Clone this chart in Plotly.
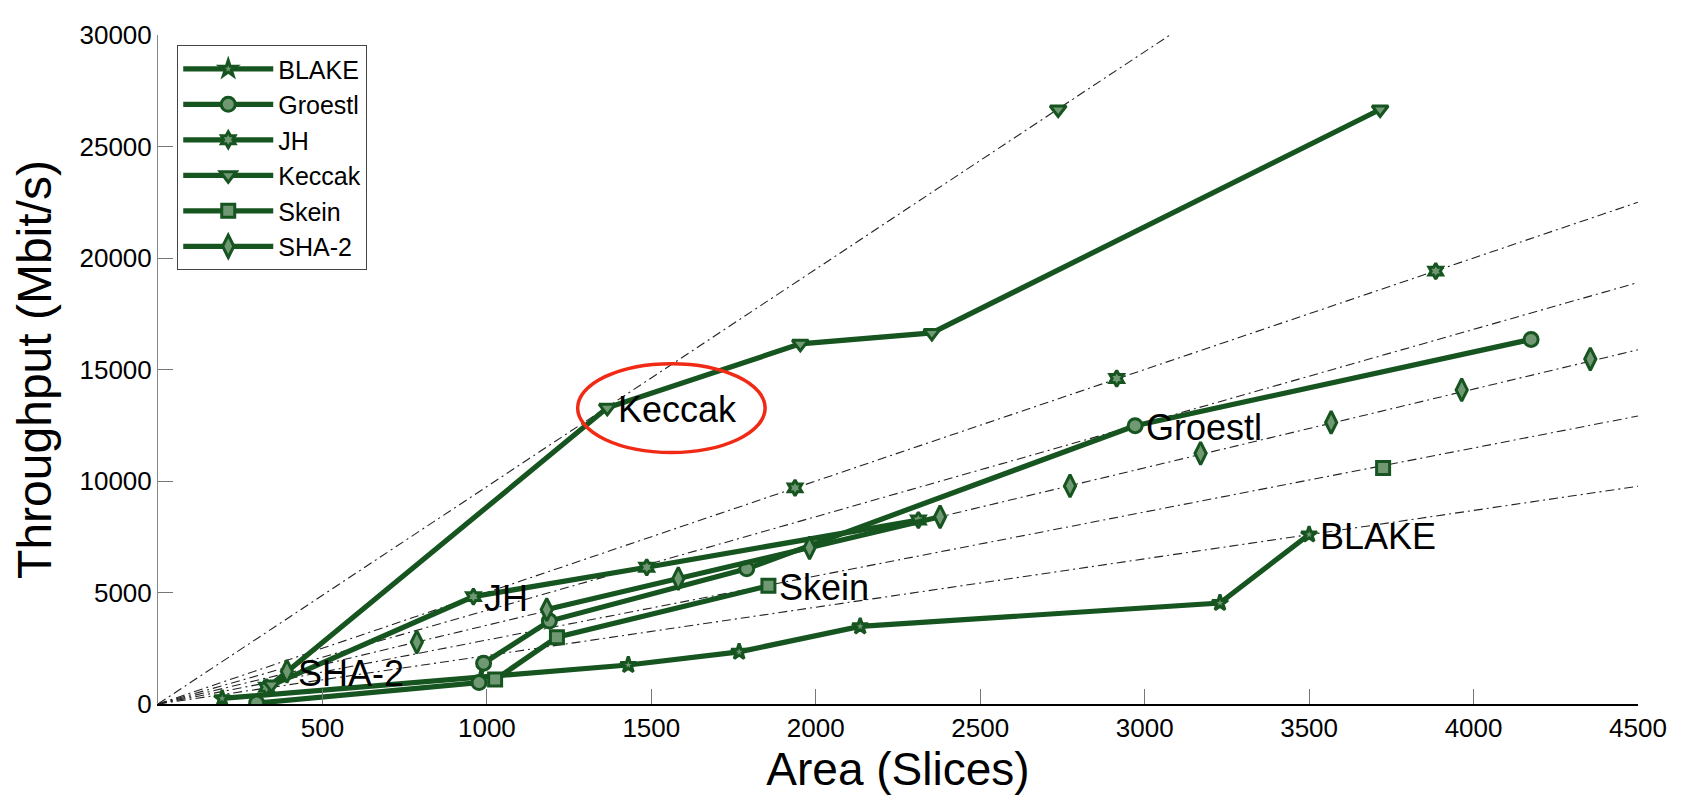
import plotly.graph_objects as go

# ---------------- data ----------------
blake_area = [195, 1430, 1767, 2135, 3229, 3500]
blake_tput = [250, 1750, 2340, 3480, 4530, 7600]

groestl_area = [300, 976, 990, 1190, 1790, 2971, 4175]
groestl_tput = [40, 960, 1830, 3720, 6060, 12480, 16350]

jh_area = [330, 959, 1486, 2312]
jh_tput = [750, 4816, 6130, 8248]
jh_extra_area = [1937, 2915, 3885]
jh_extra_tput = [9690, 14595, 19410]

keccak_area = [345, 1366, 1953, 2353, 3716]
keccak_tput = [870, 13280, 16150, 16640, 26660]
keccak_extra_area = [2737]
keccak_extra_tput = [26660]

skein_area = [1025, 1213, 1856]
skein_tput = [1095, 2995, 5300]
skein_extra_area = [3725]
skein_extra_tput = [10580]

sha2_area = [1182, 1582, 1981, 2378]
sha2_tput = [4234, 5621, 7005, 8393]
sha2_extra_area = [392, 787, 2773, 3170, 3567, 3964, 4355]
sha2_extra_tput = [1462, 2776, 9780, 11240, 12625, 14085, 15470]

# constant throughput/area guide lines (Mbit/s per slice)
ratio_lines = [9.75, 5.0, 4.2, 3.53, 2.87, 2.17]

x_ticks = [500, 1000, 1500, 2000, 2500, 3000, 3500, 4000, 4500]
y_ticks = [0, 5000, 10000, 15000, 20000, 25000, 30000]
X_MAX, Y_MAX = 4500, 30000

# ---------------- styling ----------------
FONT = "Liberation Sans, Arial, sans-serif"
LINE_C = "#165420"
FILL_C = "#6f9873"

series = [
    ("BLAKE", "star", blake_area, blake_tput, None, None),
    ("Groestl", "circle", groestl_area, groestl_tput, None, None),
    ("JH", "hexagram", jh_area, jh_tput, jh_extra_area, jh_extra_tput),
    ("Keccak", "triangle-down", keccak_area, keccak_tput, keccak_extra_area, keccak_extra_tput),
    ("Skein", "square", skein_area, skein_tput, skein_extra_area, skein_extra_tput),
    ("SHA-2", "diamond-tall", sha2_area, sha2_tput, sha2_extra_area, sha2_extra_tput),
]

fig = go.Figure()

# guide lines through the origin
for r in ratio_lines:
    x_end = min(X_MAX, Y_MAX / r)
    fig.add_trace(go.Scatter(
        x=[0, x_end], y=[0, x_end * r], mode="lines",
        line=dict(color="#222222", width=1.1, dash="9px,4px,2px,4px"),
        showlegend=False, hoverinfo="skip"))

msize = {"star": 12, "circle": 14, "hexagram": 12, "triangle-down": 14,
         "square": 13, "diamond-tall": 16}

for name, sym, xa, ya, xe, ye in series:
    mk = dict(symbol=sym, size=msize[sym], color=FILL_C,
              line=dict(color=LINE_C, width=3))
    fig.add_trace(go.Scatter(
        x=xa, y=ya, mode="lines+markers", name=name, legendgroup=name,
        line=dict(color=LINE_C, width=5.2), marker=mk))
    if xe is not None:
        fig.add_trace(go.Scatter(
            x=xe, y=ye, mode="markers", name=name, legendgroup=name,
            showlegend=False, marker=mk))

# text labels next to selected points
label_pts = [
    ("Keccak", keccak_area[1], keccak_tput[1]),
    ("JH", jh_area[1], jh_tput[1]),
    ("SHA-2", sha2_extra_area[0], sha2_extra_tput[0]),
    ("Skein", skein_area[2], skein_tput[2]),
    ("Groestl", groestl_area[5], groestl_tput[5]),
    ("BLAKE", blake_area[5], blake_tput[5]),
]
for txt, x, y in label_pts:
    fig.add_annotation(x=x, y=y, text=txt, showarrow=False, xanchor="left",
                       yanchor="middle", xshift=9, yshift=-2,
                       font=dict(family=FONT, size=36, color="black"))

# red ellipse around the Keccak label
kx, ky = keccak_area[1], keccak_tput[1]
fig.add_shape(type="circle", xref="x", yref="y",
              x0=kx - 90, x1=kx + 480, y0=ky - 2000, y1=ky + 1980,
              line=dict(color="#f02a14", width=3.5))

fig.update_layout(
    width=1676, height=787,
    margin=dict(l=150, r=46, t=14, b=88),
    paper_bgcolor="white", plot_bgcolor="white",
    font=dict(family=FONT, color="black"),
    legend=dict(x=0.013, y=0.985, xanchor="left", yanchor="top",
                bgcolor="white", bordercolor="#444444", borderwidth=1,
                font=dict(family=FONT, size=25), itemwidth=90,
                tracegroupgap=0),
    xaxis=dict(range=[0, X_MAX], tickvals=x_ticks,
               ticktext=[str(v) for v in x_ticks],
               showline=True, linecolor="black", linewidth=2,
               ticks="inside", ticklen=15, tickcolor="#777777",
               showgrid=False, zeroline=False, ticklabeloverflow="allow",
               tickfont=dict(size=26, family=FONT),
               title=dict(text="Area (Slices)", standoff=8,
                          font=dict(size=46, family=FONT))),
    yaxis=dict(range=[0, Y_MAX], tickvals=y_ticks,
               ticktext=[str(v) for v in y_ticks],
               showline=True, linecolor="#888888", linewidth=1,
               ticks="inside", ticklen=15, tickcolor="#777777",
               showgrid=False, zeroline=False, ticklabeloverflow="allow",
               tickfont=dict(size=26, family=FONT),
               title=dict(text="Throughput (Mbit/s)", standoff=12,
                          font=dict(size=48, family=FONT))),
)

fig.write_html("out.html")
